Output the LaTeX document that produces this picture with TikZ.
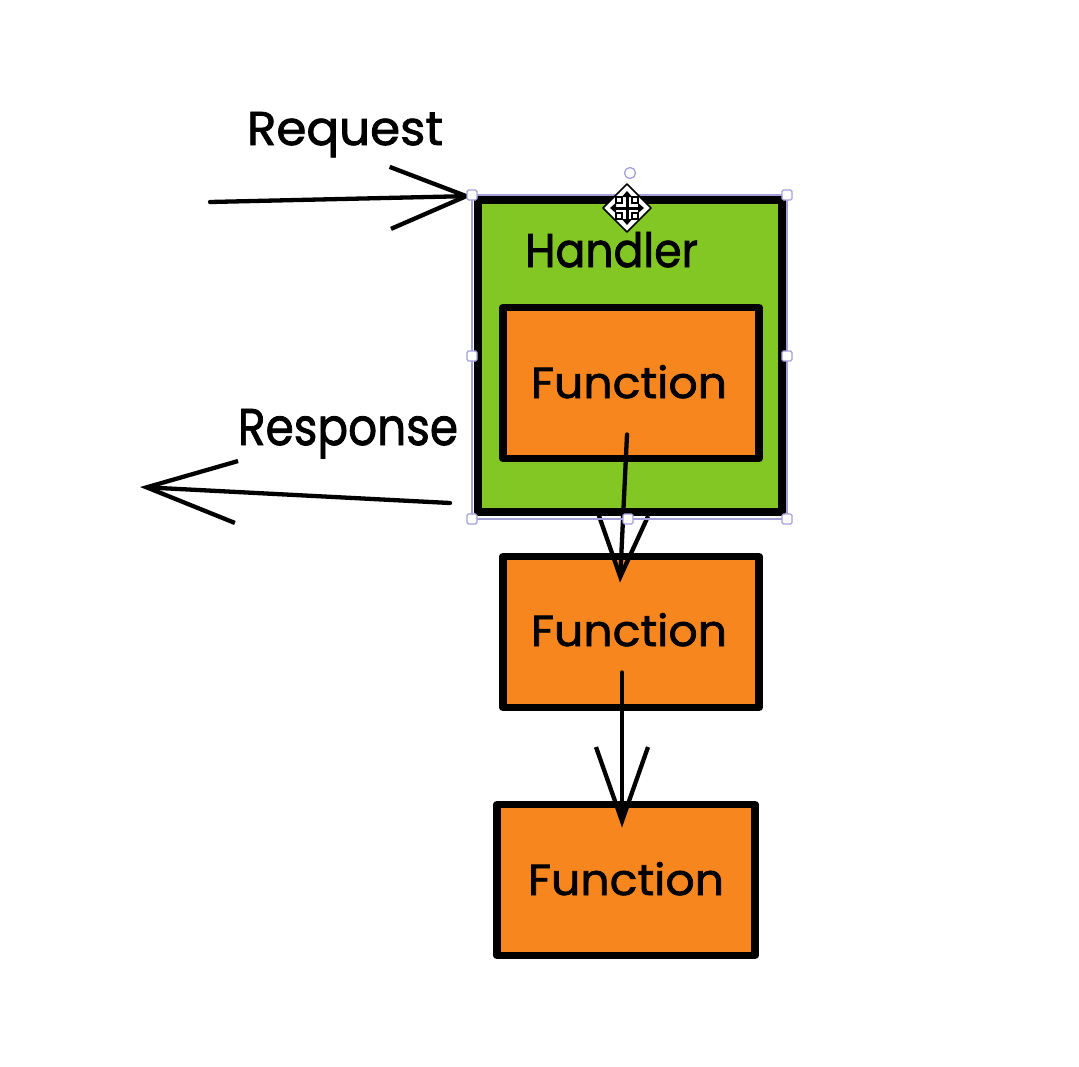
\documentclass[tikz,border=0pt]{standalone}
\usepackage{fontspec}
\setmainfont{Poppins}
\newfontfamily\hand[FakeBold=1.6]{Poppins}
\usetikzlibrary{arrows.meta,calc}
\definecolor{hgreen}{RGB}{130,199,35}
\definecolor{forange}{RGB}{247,134,30}
\definecolor{selblue}{RGB}{165,160,220}
\newcommand{\fitw}[3]{\resizebox{#1}{#2}{\hand #3}}
\begin{document}
\begin{tikzpicture}[x=1pt,y=-1pt,
  sketchbox/.style={draw=black, line width=7.5pt, line join=round, inner sep=0pt, outer sep=0pt},
  handlerbox/.style={sketchbox, fill=hgreen, minimum width=304pt, minimum height=312pt},
  fnbox/.style={sketchbox, fill=forange, minimum width=256pt, minimum height=151pt},
  txt/.style={inner sep=0pt, outer sep=0pt},
  flow/.style={line width=4.3pt, line cap=round, line join=round},
  selframe/.style={draw=selblue, line width=1.3pt},
  selhandle/.style={draw=selblue, fill=white, line width=1.2pt, rounded corners=1.5pt}
]
\useasboundingbox (0,0) rectangle (1079,1066);
\fill[white] (0,0) rectangle (1079,1066);

% boxes
\node[handlerbox] (handler) at (630,356) {};
\node[fnbox] (fn1) at (631,383) {};
\node[fnbox] (fn2) at (631,632) {};
\node[fnbox, minimum width=258pt] (fn3) at (626,880) {};

% texts
\node[txt, anchor=base west] (reqlabel) at (247,145) {\fitw{196pt}{33pt}{Request}};
\node[txt, anchor=base west] (reslabel) at (238,445) {\fitw{220pt}{36pt}{Response}};
\node[txt, anchor=base west] (hlabel) at (525,267) {\fitw{173pt}{35pt}{Handler}};
\node[txt, anchor=base] (fn1label) at (629,398) {\fitw{196pt}{33pt}{Function}};
\node[txt, anchor=base] (fn2label) at (629,646) {\fitw{196pt}{33pt}{Function}};
\node[txt, anchor=base] (fn3label) at (626,895) {\fitw{196pt}{33pt}{Function}};

% connectors
\coordinate (reqstart) at (210,202);
\coordinate (resend) at (140,487);
\draw[flow, -{Straight Barb[length=76pt, width=62pt]}] (reqstart) -- ([xshift=-6pt,yshift=4pt]handler.north west);
\draw[flow, -{Straight Barb[length=90pt, width=62pt]}] ([xshift=-28pt,yshift=9pt]handler.south west) -- (resend);
\draw[flow, -{Straight Barb[length=62pt, width=50pt]}] ([xshift=-4pt,yshift=24pt]fn1.south) -- ([xshift=-11pt,yshift=-26pt]fn2.north);
\draw[flow, -{Straight Barb[length=74pt, width=52pt]}] ([xshift=-9pt,yshift=35pt]fn2.south) -- ([xshift=-4pt,yshift=-23pt]fn3.north);

% selection frame and handles
\draw[selframe] ([xshift=-6pt,yshift=5pt]handler.north west) rectangle ([xshift=5pt,yshift=-7pt]handler.south east);
\foreach \px/\py in {472/195,787/195,472/356,787/356,472/519,628/519,787/519}{
  \draw[selhandle] (\px-5,\py-5) rectangle (\px+5,\py+5);
}
\draw[selframe, fill=white] (630,173) circle (5.5pt);

% move cursor
\filldraw[fill=white, draw=black, line width=1.5pt, line join=round] (627,184) -- (651,208) -- (627,232) -- (603,208) -- cycle;
\draw[line width=3pt, {Triangle[length=6pt,width=10pt]}-{Triangle[length=6pt,width=10pt]}] (627,191) -- (627,225);
\draw[line width=3pt, {Triangle[length=6pt,width=10pt]}-{Triangle[length=6pt,width=10pt]}] (610,208) -- (644,208);
\foreach \qx/\qy in {615/196,631/196,615/212,631/212}{
  \fill[black] (\qx,\qy) rectangle (\qx+8,\qy+8);
  \fill[white] (\qx+2,\qy+2) rectangle (\qx+6,\qy+6);
}
\end{tikzpicture}
\end{document}
